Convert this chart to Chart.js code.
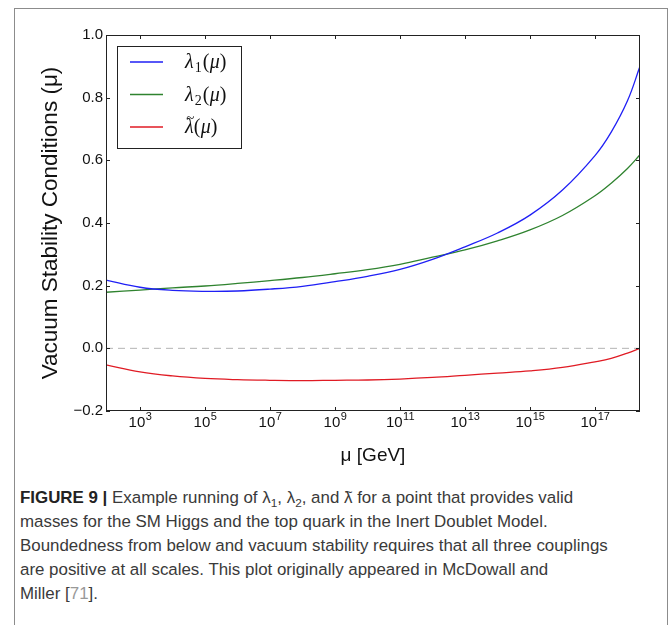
<!DOCTYPE html>
<html>
<head>
<meta charset="utf-8">
<script src="https://cdn.jsdelivr.net/npm/chart.js@4.4.1/dist/chart.umd.min.js"></script>
<style>
  html, body { margin: 0; padding: 0; background: #fff; }
  body { width: 672px; height: 625px; position: relative; overflow: hidden; }
  #frame { position: absolute; left: 14px; top: 8px; width: 652px; height: 700px; border: 1px solid #8c8c8c; }
  #wrap { position: absolute; left: 0; top: 0; width: 672px; height: 480px; }
  #caption { position: absolute; left: 20px; top: 486px; font: 16.9px "Liberation Sans", Arial, sans-serif;
             line-height: 24px; color: #3a3a3a; white-space: nowrap; }
  #caption b { font-weight: 700; color: #222; }
  #caption sub { font-size: 0.7em; line-height: 0; vertical-align: -0.3em; }
  #caption .ref { color: #999; }
  #caption .tl { position: relative; display: inline-block; }
  #caption .tl .t { position: absolute; left: 0.06em; top: -0.42em; font-size: 0.8em; }
</style>
</head>
<body>
<div id="frame"></div>
<div id="wrap"><canvas id="chart" width="672" height="480"></canvas></div>
<div id="caption"><b>FIGURE 9 |</b> Example running of λ<sub>1</sub>, λ<sub>2</sub>, and <span class="tl">λ<span class="t">~</span></span> for a point that provides valid<br>masses for the SM Higgs and the top quark in the Inert Doublet Model.<br>Boundedness from below and vacuum stability requires that all three couplings<br>are positive at all scales. This plot originally appeared in McDowall and<br>Miller [<span class="ref">71</span>].</div>
<script>
// renormalisation scale mu in GeV
const muGeV = [90, 1e3, 1e4, 1e5, 1e6, 1e7, 1e8, 1e9, 1e10, 1e11, 1e12, 1e13, 1e14, 1e15, 1e16, 1e17, 3.16e17, 1e18, 2.43e18];

const lambda1 = [0.218, 0.195, 0.185, 0.182, 0.183, 0.189, 0.198, 0.213, 0.230, 0.252, 0.284, 0.324, 0.368, 0.425, 0.505, 0.615, 0.690, 0.790, 0.900];
const lambda2 = [0.179, 0.186, 0.193, 0.199, 0.207, 0.216, 0.226, 0.238, 0.251, 0.268, 0.291, 0.314, 0.343, 0.378, 0.424, 0.487, 0.527, 0.574, 0.618];
const lambdaTilde = [-0.053, -0.075, -0.088, -0.096, -0.100, -0.102, -0.103, -0.102, -0.101, -0.098, -0.093, -0.086, -0.079, -0.072, -0.061, -0.043, -0.032, -0.015, 0.0];

const seriesLabels = ['λ₁(μ)', 'λ₂(μ)', 'λ̃(μ)'];
const seriesColors = ['#1f1ff5', '#2f832f', '#e01b24'];

const xMin = 90, xMax = 2.43e18;
const xTickValues = [1e3, 1e5, 1e7, 1e9, 1e11, 1e13, 1e15, 1e17];
const xTickExponents = ['3', '5', '7', '9', '11', '13', '15', '17'];
const yMin = -0.2, yMax = 1.0, yStep = 0.2;

function toPoints(ys) {
    return muGeV.map((m, i) => ({x: m, y: ys[i]}));
}

function fmtY(v) {
    const r = Math.round(v * 10) / 10;
    return (r < 0 ? '\u2212' : '') + Math.abs(r).toFixed(1);
}

const SANS = '"Liberation Sans", Arial, sans-serif';
const SERIF = '"Liberation Serif", "DejaVu Serif", serif';
const SUBS = {'₁': '1', '₂': '2'};

// small mathtext-ish renderer for the legend labels
function drawMath(ctx, text, x, y, size) {
    let cx = x, prevX = x, prevW = 0;
    for (const ch of text) {
        if (SUBS[ch]) {
            ctx.font = `${Math.round(size * 0.7)}px ${SERIF}`;
            ctx.fillText(SUBS[ch], cx + 1, y + size * 0.22);
            cx += ctx.measureText(SUBS[ch]).width + 2;
        } else if (ch === '\u0303') {
            ctx.font = `${Math.round(size * 0.75)}px ${SERIF}`;
            const tw = ctx.measureText('~').width;
            ctx.fillText('~', prevX + prevW / 2 - tw / 2 + 1, y - size * 0.5);
        } else {
            const upright = ch === '(' || ch === ')';
            ctx.font = `${upright ? '' : 'italic '}${size}px ${SERIF}`;
            prevX = cx;
            prevW = ctx.measureText(ch).width;
            ctx.fillText(ch, cx, y);
            cx += prevW + (upright ? 0.5 : 0);
        }
    }
}

// matplotlib style box: spines plus inward ticks on all sides, and 10^n labels
const frameTicks = {
    id: 'frameTicks',
    afterDraw(chart) {
        const {ctx, chartArea: a, scales: {x, y}} = chart;
        ctx.save();
        ctx.strokeStyle = '#222';
        ctx.lineWidth = 1;
        ctx.beginPath();
        x.ticks.forEach(t => {
            const px = Math.round(x.getPixelForValue(t.value)) + 0.5;
            ctx.moveTo(px, a.bottom); ctx.lineTo(px, a.bottom - 4);
            ctx.moveTo(px, a.top); ctx.lineTo(px, a.top + 4);
        });
        y.ticks.forEach(t => {
            const py = Math.round(y.getPixelForValue(t.value)) + 0.5;
            ctx.moveTo(a.left, py); ctx.lineTo(a.left + 4, py);
            ctx.moveTo(a.right, py); ctx.lineTo(a.right - 4, py);
        });
        ctx.stroke();
        ctx.strokeRect(a.left + 0.5, a.top + 0.5, a.right - a.left - 1, a.bottom - a.top - 1);

        ctx.fillStyle = '#111';
        ctx.textBaseline = 'alphabetic';
        x.ticks.forEach(t => {
            const exp = xTickExponents[xTickValues.indexOf(t.value)];
            if (exp === undefined) return;
            const px = x.getPixelForValue(t.value);
            ctx.font = `15px ${SANS}`;
            const wb = ctx.measureText('10').width;
            ctx.font = `11px ${SANS}`;
            const we = ctx.measureText(exp).width;
            const x0 = px - (wb + we) / 2;
            ctx.font = `15px ${SANS}`;
            ctx.fillText('10', x0, a.bottom + 16);
            ctx.font = `11px ${SANS}`;
            ctx.fillText(exp, x0 + wb + 0.5, a.bottom + 9);
        });
        ctx.restore();
    }
};

const boxLegend = {
    id: 'boxLegend',
    afterDraw(chart) {
        const {ctx, chartArea: a} = chart;
        const left = a.left + 11, top = a.top + 11, w = 124, h = 102;
        ctx.save();
        ctx.fillStyle = '#fff';
        ctx.fillRect(left, top, w, h);
        ctx.strokeStyle = '#222';
        ctx.lineWidth = 1;
        ctx.strokeRect(left + 0.5, top + 0.5, w, h);
        chart.data.datasets.filter(d => !d.noLegend).forEach((d, i) => {
            const yy = top + 16 + i * 32.5;
            ctx.strokeStyle = d.borderColor;
            ctx.lineWidth = d.borderWidth;
            ctx.beginPath();
            ctx.moveTo(left + 13, yy); ctx.lineTo(left + 46, yy);
            ctx.stroke();
            ctx.fillStyle = '#111';
            ctx.textBaseline = 'alphabetic';
            drawMath(ctx, d.label, left + 68, yy + 6, 20);
        });
        ctx.restore();
    }
};

const lines = [lambda1, lambda2, lambdaTilde].map((ys, i) => ({
    label: seriesLabels[i],
    data: toPoints(ys),
    borderColor: seriesColors[i],
    borderWidth: 1.3,
    pointRadius: 0,
    fill: false,
    tension: 0.4,
}));

lines.push({
    label: 'zero',
    noLegend: true,
    data: [{x: xMin, y: 0}, {x: xMax, y: 0}],
    borderColor: '#b4b4b4',
    borderWidth: 1,
    borderDash: [7, 5],
    pointRadius: 0,
    fill: false,
});

new Chart(document.getElementById('chart').getContext('2d'), {
    type: 'line',
    data: {datasets: lines},
    options: {
        responsive: false,
        animation: false,
        layout: {padding: {top: 35, right: 32, left: 0, bottom: 0}},
        plugins: {legend: {display: false}, tooltip: {enabled: false}},
        scales: {
            x: {
                type: 'logarithmic',
                min: xMin,
                max: xMax,
                afterBuildTicks(s) { s.ticks = xTickValues.map(v => ({value: v})); },
                afterFit(s) { s.height = 69; },
                grid: {display: false, drawTicks: false},
                border: {display: false},
                ticks: {display: false},
                title: {
                    display: true,
                    text: 'μ [GeV]',
                    color: '#111',
                    font: {family: 'Liberation Sans', size: 19},
                    padding: {top: 0, bottom: 13},
                },
            },
            y: {
                min: yMin,
                max: yMax,
                afterFit(s) { s.width = 106; },
                grid: {display: false, drawTicks: false},
                border: {display: false},
                ticks: {
                    stepSize: yStep,
                    padding: 3,
                    color: '#111',
                    font: {family: 'Liberation Sans', size: 15},
                    callback: v => fmtY(v),
                },
                title: {
                    display: true,
                    text: 'Vacuum Stability Conditions (μ)',
                    color: '#111',
                    font: {family: 'Liberation Sans', size: 22.5},
                    padding: {top: 37, bottom: 0},
                },
            },
        },
    },
    plugins: [frameTicks, boxLegend],
});
</script>
</body>
</html>
